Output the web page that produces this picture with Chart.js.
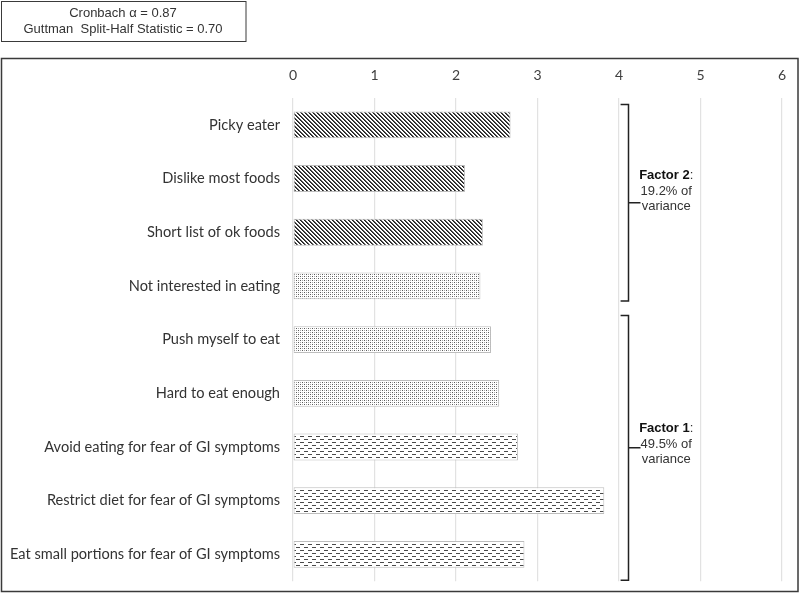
<!DOCTYPE html>
<html>
<head>
<meta charset="utf-8">
<script src="https://cdn.jsdelivr.net/npm/chart.js@4/dist/chart.umd.min.js"></script>
<style>
  html, body { margin: 0; padding: 0; background: #fff; }
  #wrap { width: 800px; height: 595px; position: relative; }
</style>
</head>
<body>
<div id="wrap"><canvas id="chart" width="800" height="595"></canvas></div>
<script>
const categories = [
    "Picky eater",
    "Dislike most foods",
    "Short list of ok foods",
    "Not interested in eating",
    "Push myself to eat",
    "Hard to eat enough",
    "Avoid eating for fear of GI symptoms",
    "Restrict diet for fear of GI symptoms",
    "Eat small portions for fear of GI symptoms"
];
const means = [2.67, 2.11, 2.33, 2.30, 2.43, 2.53, 2.76, 3.82, 2.84];
const fills = ["hatch", "hatch", "hatch", "dots", "dots", "dots", "dash", "dash", "dash"];
const xMin = 0;
const xMax = 6;
const statLines = ["Cronbach \u03b1 = 0.87", "Guttman  Split-Half Statistic = 0.70"];
const factorNames = ["Factor 2", "Factor 1"];
const factorNotes = ["19.2% of", "49.5% of"];
const factorFirst = [0, 4];
const factorLast = [3, 8];

// bracket reach above first / below last bar, in fractions of a category band
const bracketAbove = [0.38, 0.45];
const bracketBelow = [0.28, 0.48];
const textShift = [-27, -19];

function makePattern(kind) {
    const c = document.createElement("canvas");
    const g = c.getContext("2d");
    if (kind === "hatch") {
        c.width = 4; c.height = 4;
        g.fillStyle = "#fff";
        g.fillRect(0, 0, 4, 4);
        for (let y = 0; y < 4; y++) {
            for (let x = 0; x < 4; x++) {
                const d = ((x - y) % 4 + 4) % 4;
                if (d === 0) { g.fillStyle = "#1e1e1e"; g.fillRect(x, y, 1, 1); }
                if (d === 1) { g.fillStyle = "#555"; g.fillRect(x, y, 1, 1); }
            }
        }
    } else if (kind === "dots") {
        c.width = 4; c.height = 4;
        g.fillStyle = "#fff";
        g.fillRect(0, 0, 4, 4);
        g.fillStyle = "#5a5a5a";
        g.fillRect(0, 0, 1, 1);
        g.fillRect(2, 2, 1, 1);
        g.fillStyle = "#a8a8a8";
        g.fillRect(2, 0, 1, 1);
        g.fillRect(0, 2, 1, 1);
    } else {
        c.width = 8; c.height = 6;
        g.fillStyle = "#fff";
        g.fillRect(0, 0, 8, 6);
        g.fillStyle = "#4a4a4a";
        g.fillRect(0, 1, 4, 1);
        g.fillRect(4, 4, 4, 1);
    }
    return document.getElementById("chart").getContext("2d").createPattern(c, "repeat");
}

const patterns = { hatch: makePattern("hatch"), dots: makePattern("dots"), dash: makePattern("dash") };

const decorations = {
    id: "decorations",
    afterDraw(chart) {
        const ctx = chart.ctx;
        const xs = chart.scales.x;
        const ys = chart.scales.y;
        ctx.save();

        // outer frame
        ctx.strokeStyle = "#3a3a3a";
        ctx.lineWidth = 1.5;
        ctx.strokeRect(1.5, 58.5, 796.5, 533);

        // stats box
        ctx.lineWidth = 1;
        ctx.strokeRect(1.5, 1.5, 244.5, 40);
        ctx.fillStyle = "#333";
        ctx.font = "13px 'Liberation Sans', Arial, sans-serif";
        ctx.textAlign = "center";
        ctx.textBaseline = "middle";
        ctx.fillText(statLines[0], 123, 13);
        ctx.fillText(statLines[1], 123, 29);

        // factor brackets
        const band = ys.getPixelForValue(1) - ys.getPixelForValue(0);
        const bx = Math.round(xs.getPixelForValue(4.11)) + 0.5;
        const armX = xs.getPixelForValue(4.02);
        const textX = xs.getPixelForValue(4.58);
        ctx.strokeStyle = "#222";
        ctx.lineWidth = 1.5;
        for (let i = 0; i < factorNames.length; i++) {
            const top = ys.getPixelForValue(factorFirst[i]) - bracketAbove[i] * band;
            const bottom = ys.getPixelForValue(factorLast[i]) + bracketBelow[i] * band;
            const mid = (top + bottom) / 2;
            ctx.beginPath();
            ctx.moveTo(armX, top);
            ctx.lineTo(bx, top);
            ctx.lineTo(bx, bottom);
            ctx.lineTo(armX, bottom);
            ctx.moveTo(bx, mid);
            ctx.lineTo(bx + 12, mid);
            ctx.stroke();

            const y0 = mid + textShift[i];
            ctx.textAlign = "left";
            ctx.fillStyle = "#111";
            ctx.font = "bold 13px 'Liberation Sans', Arial, sans-serif";
            const w1 = ctx.measureText(factorNames[i]).width;
            ctx.font = "13px 'Liberation Sans', Arial, sans-serif";
            const w2 = ctx.measureText(":").width;
            const startX = textX - (w1 + w2) / 2;
            ctx.font = "bold 13px 'Liberation Sans', Arial, sans-serif";
            ctx.fillText(factorNames[i], startX, y0);
            ctx.font = "13px 'Liberation Sans', Arial, sans-serif";
            ctx.fillStyle = "#333";
            ctx.fillText(":", startX + w1, y0);
            ctx.textAlign = "center";
            ctx.fillText(factorNotes[i], textX, y0 + 16);
            ctx.fillText("variance", textX, y0 + 31);
        }
        ctx.restore();
    }
};

new Chart(document.getElementById("chart"), {
    type: "bar",
    data: {
        labels: categories,
        datasets: [{
            data: means,
            backgroundColor: fills.map(f => patterns[f]),
            borderColor: "#bdbdbd",
            borderWidth: 1,
            borderSkipped: false,
            barPercentage: 0.5,
            categoryPercentage: 1.0
        }]
    },
    options: {
        indexAxis: "y",
        responsive: false,
        animation: false,
        layout: { padding: { left: 2, top: 60, right: 9, bottom: 6 } },
        plugins: { legend: { display: false }, tooltip: { enabled: false } },
        scales: {
            x: {
                position: "top",
                min: xMin,
                max: xMax,
                ticks: {
                    stepSize: 1,
                    padding: 14,
                    color: "#404040",
                    font: { family: "Lato, 'Open Sans', sans-serif", size: 14 }
                },
                grid: { color: "#e2e2e2", drawTicks: false, lineWidth: 1.2 },
                border: { display: false },
                afterFit(scale) { scale.height = 38; }
            },
            y: {
                ticks: {
                    padding: 5,
                    color: "#333",
                    font: { family: "Lato, 'Open Sans', sans-serif", size: 14.6 }
                },
                grid: { display: false },
                border: { display: false },
                afterFit(scale) { scale.width = 291; }
            }
        }
    },
    plugins: [decorations]
});
</script>
</body>
</html>
